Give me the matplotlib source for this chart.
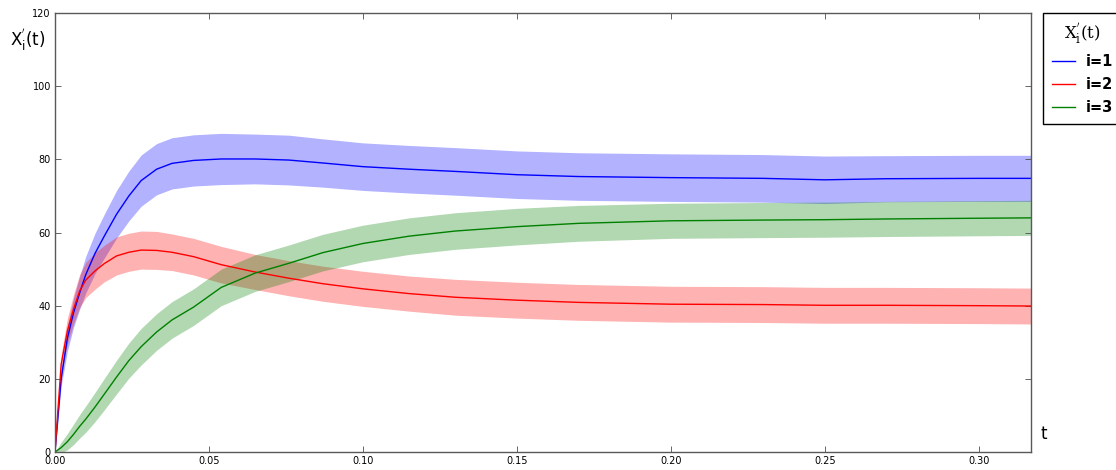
import numpy as np
import matplotlib
matplotlib.use("Agg")
import matplotlib.pyplot as plt

#%% averaged trajectories and their spread
t = [0, 0.002, 0.004, 0.006, 0.008, 0.010, 0.013, 0.016, 0.020, 0.024,
     0.028, 0.033, 0.038, 0.045, 0.054, 0.065, 0.076, 0.087, 0.100, 0.115,
     0.130, 0.150, 0.170, 0.200, 0.230, 0.250, 0.270, 0.300, 0.317]

x1_mean = [0, 20, 31, 38, 43.5, 48.5, 54.3, 59, 65, 70,
           74.2, 77.3, 78.9, 79.7, 80.1, 80.1, 79.8, 79.0, 78.0, 77.3,
           76.7, 75.8, 75.3, 75.0, 74.8, 74.4, 74.7, 74.8, 74.8]
x1_std = [0, 2, 3.5, 4, 4.5, 5, 5.5, 6, 6.5, 6.8,
          7, 7, 7, 7, 7, 6.8, 6.8, 6.6, 6.5, 6.5,
          6.5, 6.5, 6.5, 6.5, 6.5, 6.5, 6.3, 6.3, 6.3]

x2_mean = [0, 24, 33, 39, 44, 47, 49.5, 51.5, 53.6, 54.6,
           55.2, 55.1, 54.6, 53.4, 51.2, 49.2, 47.5, 46.0, 44.6, 43.3,
           42.3, 41.5, 40.9, 40.4, 40.3, 40.1, 40.1, 40.0, 39.9]
x2_std = [0, 2.5, 3.5, 4, 4.5, 4.8, 5, 5, 5.2, 5.2,
          5.2, 5.2, 5, 5, 5, 4.8, 4.8, 4.8, 4.8, 4.8,
          4.9, 4.9, 4.9, 4.9, 4.9, 4.9, 4.9, 4.9, 4.9]

x3_mean = [0, 1.2, 2.8, 4.8, 7.0, 9.0, 12.3, 15.8, 20.5, 25.0,
           28.8, 32.8, 36.1, 39.6, 45.0, 48.9, 51.6, 54.5, 57.0, 59.0,
           60.4, 61.6, 62.5, 63.2, 63.4, 63.5, 63.7, 63.9, 64.0]
x3_std = [0, 1.5, 2.2, 2.8, 3.2, 3.6, 4, 4.3, 4.6, 4.8,
          5, 5, 5, 5, 5, 5, 5, 5, 5, 5,
          5, 5, 4.9, 4.8, 4.8, 4.8, 4.8, 4.8, 4.8]

series = [(x1_mean, x1_std, "b", "i=1"),
          (x2_mean, x2_std, "r", "i=2"),
          (x3_mean, x3_std, "g", "i=3")]

#%% plot
plt.rcParams["xtick.direction"] = "in"
plt.rcParams["ytick.direction"] = "in"
plt.rcParams["xtick.top"] = True
plt.rcParams["ytick.right"] = True

fig = plt.figure(figsize=(11.16, 4.70), dpi=100)
ax = fig.add_axes([55 / 1116, 18 / 470, 976 / 1116, 439 / 470])

tt = np.array(t)
for m, s, c, lab in series:
    m = np.array(m)
    s = np.array(s)
    ax.fill_between(tt, m - s, m + s, color=c, alpha=0.3, lw=0)
    ax.plot(tt, m, color=c, lw=1, label=lab)

ax.set_xlim(0, 0.317)
ax.set_ylim(0, 120)
ax.set_xticks(np.arange(0, 0.31, 0.05))
ax.set_xticklabels(["%.2f" % v for v in np.arange(0, 0.31, 0.05)])
ax.set_yticks(range(0, 121, 20))
ax.tick_params(labelsize=7, length=4, width=0.6, color="0.3", pad=3)
for sp in ax.spines.values():
    sp.set_color("0.35")
    sp.set_linewidth(1)

ylab = r"$\mathrm{X}^{\mathbf{'}}_{\mathrm{i}}\mathrm{(t)}$"
ax.set_xlabel("t", fontsize=12)
ax.xaxis.set_label_coords(1.013, 0.062)
ax.set_ylabel(ylab, fontsize=12, rotation=0)
ax.yaxis.set_label_coords(-0.028, 0.91)

leg = ax.legend(loc="upper left", bbox_to_anchor=(1043 / 1116, 457 / 470),
                bbox_transform=fig.transFigure, title=ylab,
                prop={"weight": "bold", "size": 10.5},
                title_fontsize=12, fancybox=False, framealpha=1,
                edgecolor="black", handlelength=1.6, handletextpad=0.7,
                borderpad=0.6, labelspacing=0.55, borderaxespad=0)
leg.get_title().set_math_fontfamily("dejavuserif")
leg.get_frame().set_linewidth(1)

fig.savefig("out.png", dpi=100)
